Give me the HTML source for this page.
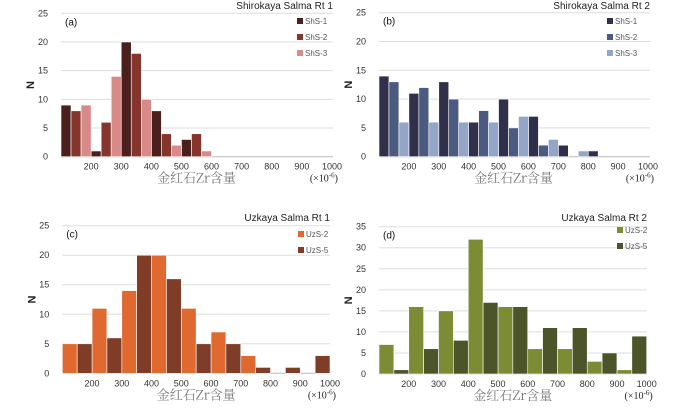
<!DOCTYPE html>
<html><head><meta charset="utf-8"><style>
body{margin:0;background:#fff;width:700px;height:403px;overflow:hidden}
svg text{font-family:"Liberation Sans","Noto Sans CJK SC",sans-serif}
</style></head><body>
<svg id="s" width="700" height="403"></svg>
<script>
const binStarts=[100,200,300,400,500,600,700,800,900];
const aS1=[9,1,20,8,3,0,0,0,0];
const aS2=[8,6,18,4,4,0,0,0,0];
const aS3=[9,14,10,2,1,0,0,0,0];
const bS1=[14,11,13,6,10,7,2,1,0];
const bS2=[13,12,10,8,5,2,0,0,0];
const bS3=[6,6,6,6,7,3,1,0,0];
const cU2=[5,11,14,20,11,7,3,0,0];
const cU5=[5,6,20,16,5,5,1,1,3];
const dU2=[7,16,15,32,16,6,6,3,1];
const dU5=[1,6,8,17,16,11,11,5,9];
const xTicks=[200,300,400,500,600,700,800,900,1000];
const NS='http://www.w3.org/2000/svg';
const svg=document.getElementById('s');
function mk(tag,attrs,parent,txt){const e=document.createElementNS(NS,tag);for(const k in attrs)e.setAttribute(k,attrs[k]);if(txt!==undefined)e.textContent=txt;(parent||svg).appendChild(e);return e;}
function panel(p){
  const g=mk('g',{});
  
  
  const xs=v=>p.x0+(v-100)/900*(p.x1-p.x0);
  const ys=v=>p.y0-(v/p.ymax)*(p.y0-p.yTop);
  for(let t=0;t<=p.ymax;t+=5){
    const y=ys(t);
    const l=mk('line',{x1:p.x0,x2:p.gx,y1:y,y2:y,stroke:t==0?'#bbb':'#ddd','stroke-width':1},g);
    
    
    const tx=mk('text',{x:p.x0-13,y:y+3,'font-size':9,'text-anchor':'end',fill:'#333'},g,String(t));
    
    
  }
  const n=p.series.length;
  p.series.forEach((s,si)=>{
    s.data.forEach((v,i)=>{
      if(v<=0)return;
      const a=xs(binStarts[i]+100*si/n), b=xs(binStarts[i]+100*(si+1)/n);
      const r=mk('rect',{x:a,y:ys(v),width:b-a,height:ys(0)-ys(v),fill:s.color,stroke:'#fff','stroke-width':0.6},g);
      
      
    });
    const ly=p.legY+si*p.legDy;
    const lr=mk('rect',{x:p.legX,y:ly-6,width:6,height:6,fill:s.color},g);
    
    
    const lt=mk('text',{x:p.legX+8,y:ly,'font-size':8,fill:'#555'},g,s.label);
    
    
  });
  xTicks.forEach(t=>{
    const tx=mk('text',{x:xs(t),y:p.y0+13,'font-size':9,'text-anchor':'middle',fill:'#333'},g,String(t));
    
    
  });
  const ti=mk('text',{x:p.gx,y:p.titleY,'font-size':10,'text-anchor':'end',fill:'#222'},g,p.title);
  
  
  const lab=mk('text',{x:p.x0+4,y:p.yTop+12,'font-size':10,'font-family':'Liberation Serif,serif',fill:'#111'},g,p.tag);
  
  
  const yl=mk('text',{x:0,y:0,'font-size':11,'font-weight':'bold','text-anchor':'middle',fill:'#222',transform:`translate(${p.x0-27},${(p.y0+p.yTop)/2}) rotate(-90)`},g,'N');
  
  
  const xl=mk('text',{x:(p.x0+p.x1)/2,y:p.y0+26,'font-size':13,'text-anchor':'middle',fill:'#777',style:'font-family:"Noto Serif CJK SC","Liberation Serif",serif'},g,'金红石Zr含量');
  
  
  const un=mk('text',{x:p.x1+6,y:p.y0+25,'font-size':10,'text-anchor':'end',fill:'#222',style:'font-family:"Liberation Serif",serif'},g);
  
  
  un.innerHTML='(×10<tspan font-size="7" dy="-4">-6</tspan><tspan dy="4">)</tspan>';
}
panel({name:'panel-a',x0:61,x1:332,gx:333,y0:156.7,yTop:13.3,ymax:25,title:'Shirokaya Salma Rt 1',titleY:9,tag:'(a)',legX:297,legY:24,legDy:16,
 series:[{label:'ShS-1',color:'#4b1f1c',data:aS1},{label:'ShS-2',color:'#85352b',data:aS2},{label:'ShS-3',color:'#d88a89',data:aS3}]});
panel({name:'panel-b',x0:379,x1:648,gx:650,y0:156.7,yTop:12.7,ymax:25,title:'Shirokaya Salma Rt 2',titleY:9,tag:'(b)',legX:607,legY:24,legDy:16,
 series:[{label:'ShS-1',color:'#30304a',data:bS1},{label:'ShS-2',color:'#4a5a80',data:bS2},{label:'ShS-3',color:'#94a6c8',data:bS3}]});
panel({name:'panel-c',x0:62.3,x1:330,gx:330,y0:373.3,yTop:225.7,ymax:25,title:'Uzkaya Salma Rt 1',titleY:221,tag:'(c)',legX:298,legY:237,legDy:16,
 series:[{label:'UzS-2',color:'#e0692f',data:cU2},{label:'UzS-5',color:'#7f3d28',data:cU5}]});
panel({name:'panel-d',x0:379,x1:646.7,gx:647,y0:374,yTop:226.7,ymax:35,title:'Uzkaya Salma Rt 2',titleY:221,tag:'(d)',legX:617,legY:233,legDy:16,
 series:[{label:'UzS-2',color:'#7c8c35',data:dU2},{label:'UzS-5',color:'#4b5529',data:dU5}]});
</script>
</body></html>
